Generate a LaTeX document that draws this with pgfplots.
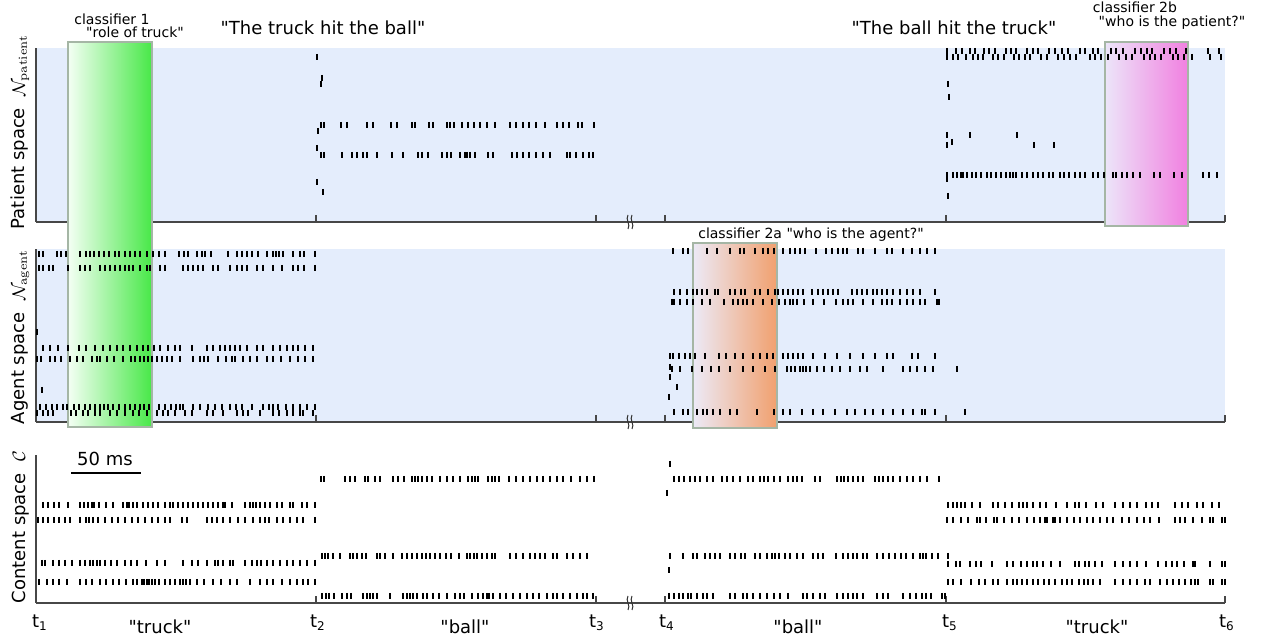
\documentclass[border=0pt]{standalone}
\usepackage[no-math]{fontspec}
\setmainfont{DejaVu Sans}[Ligatures=TeXOff]
\usepackage{pgfplots}
\pgfplotsset{compat=1.18}
\newcommand{\q}{\symbol{34}}
\definecolor{bgblue}{RGB}{228,237,252}
\definecolor{gA}{RGB}{244,255,244}
\definecolor{gB}{RGB}{72,232,72}
\definecolor{oA}{RGB}{236,234,247}
\definecolor{oB}{RGB}{241,160,110}
\definecolor{mA}{RGB}{236,229,249}
\definecolor{mB}{RGB}{241,128,224}
\definecolor{boxc}{RGB}{165,182,165}
\pgfplotsset{
  panel/.style={
    scale only axis, x=0.5pt, y=0.5pt,
    xmin=36, xmax=1225, enlargelimits=false, clip=false,
    axis x line*=bottom, axis y line*=left,
    axis line style={black!72, line width=0.7pt, -},
    xtick={316,596,665,946,1225}, xticklabels={,,,,}, ytick=\empty,
    tick align=inside, major tick length=3.5pt,
    every tick/.style={black!72, line width=0.6pt},
    anchor=south west,
  },
  spk/.style={only marks, mark=|, mark size=1.6pt, black, mark options={line width=0.75pt}},
}
\newcommand{\brk}[1]{%
  \draw[black!80, line width=0.5pt] (axis cs:628,#1-7) .. controls (axis cs:631,#1-3) and (axis cs:625,#1+3) .. (axis cs:628,#1+7);
  \draw[black!80, line width=0.5pt] (axis cs:632,#1-7) .. controls (axis cs:635,#1-3) and (axis cs:629,#1+3) .. (axis cs:632,#1+7);}
\begin{document}
\begin{tikzpicture}
\useasboundingbox (0,0) rectangle (633pt,318.5pt);
% ---------------- Patient space ----------------
\begin{axis}[panel, at={(18pt,207.5pt)}, ymin=415, ymax=589,
  axis background/.style={fill=bgblue}]
\shade[left color=mA, right color=mB] (axis cs:1105,411) rectangle (axis cs:1188,595);
\draw[boxc, line width=0.8pt] (axis cs:1105,411) rectangle (axis cs:1188,595);
\brk{415}
% segment t2-t3
\addplot[spk] coordinates {(317,580) (322,559) (321,553) (318,506) (317,489) (317,455) (323,445)};
\addplot[spk] coordinates {(321,512) (324,512) (341,512) (347,512) (367,512) (373,512) (391,512) (397,512) (412,512) (415,512) (429,512) (433,512) (447,512) (450,512) (454,512) (462,512) (468,512) (474,512) (480,512) (487,512) (495,512) (510,512) (516,512) (523,512) (529,512) (536,512) (545,512) (557,512) (563,512) (569,512) (578,512) (582,512) (594,512)};
\addplot[spk] coordinates {(321,482) (324,482) (342,482) (352,482) (357,482) (363,482) (367,482) (377,482) (392,482) (403,482) (418,482) (422,482) (428,482) (442,482) (447,482) (451,482) (460,482) (465,482) (467,482) (470,482) (475,482) (488,482) (493,482) (512,482) (517,482) (523,482) (529,482) (536,482) (543,482) (550,482) (567,482) (570,482) (576,482) (583,482) (589,482) (593,482)};
% segment t5-t6
\addplot[spk] coordinates {(947,586) (956,586) (962,586) (970,586) (975,586) (984,586) (989,586) (995,586) (1006,586) (1011,586) (1016,586) (1027,586) (1033,586) (1038,586) (1049,586) (1055,586) (1062,586) (1068,586) (1080,586) (1085,586) (1093,586) (1098,586) (1111,586) (1116,586) (1123,586) (1135,586) (1141,586) (1147,586) (1152,586) (1164,586) (1170,586) (1176,586) (1186,586) (1208,586) (1219,586)};
\addplot[spk] coordinates {(947,580) (953,580) (958,580) (966,580) (973,580) (978,580) (983,580) (993,580) (998,580) (1004,580) (1014,580) (1019,580) (1025,580) (1030,580) (1041,580) (1047,580) (1058,580) (1064,580) (1070,580) (1076,580) (1090,580) (1095,580) (1101,580) (1108,580) (1119,580) (1126,580) (1132,580) (1144,580) (1150,580) (1155,580) (1161,580) (1173,580) (1178,580) (1184,580) (1192,580) (1210,580) (1221,580)};
\addplot[spk] coordinates {(948,553) (949,540) (947,502) (947,492) (952,495) (970,502) (1017,502) (1034,492) (1054,492) (948,441) (947,458)};
\addplot[spk] coordinates {(947,462) (953,462) (957,462) (961,462) (963,462) (967,462) (972,462) (976,462) (981,462) (987,462) (991,462) (996,462) (1001,462) (1006,462) (1010,462) (1013,462) (1016,462) (1022,462) (1027,462) (1033,462) (1038,462) (1043,462) (1049,462) (1053,462) (1060,462) (1064,462) (1069,462) (1075,462) (1080,462) (1085,462) (1093,462) (1098,462) (1104,462) (1113,462) (1116,462) (1122,462) (1127,462) (1133,462) (1140,462) (1154,462) (1160,462) (1174,462) (1182,462) (1203,462) (1209,462) (1217,462)};
% texts
\node[rotate=90, anchor=base, font=\fontsize{9}{10}\selectfont] at (axis cs:25,505) {Patient space\ \ $\mathcal{N}_{\mathrm{patient}}$};
\node[anchor=base, font=\fontsize{7}{8}\selectfont] at (axis cs:112,612) {classifier 1};
\node[anchor=base, font=\fontsize{7}{8}\selectfont] at (axis cs:135,599) {\q role of truck\q};
\node[anchor=base, font=\fontsize{9}{10}\selectfont] at (axis cs:323,602) {\q The truck hit the ball\q};
\node[anchor=base, font=\fontsize{9}{10}\selectfont] at (axis cs:954,602) {\q The ball hit the truck\q};
\node[anchor=base, font=\fontsize{7}{8}\selectfont] at (axis cs:1135,624) {classifier 2b};
\node[anchor=base, font=\fontsize{7}{8}\selectfont] at (axis cs:1172,610) {\q who is the patient?\q};
\end{axis}
% ---------------- Agent space ----------------
\begin{axis}[panel, at={(18pt,107.5pt)}, ymin=215, ymax=388,
  axis background/.style={fill=bgblue}]
\shade[left color=gA, right color=gB] (axis cs:68,210) rectangle (axis cs:152,595);
\draw[boxc, line width=0.8pt] (axis cs:68,210) rectangle (axis cs:152,595);
\shade[left color=oA, right color=oB] (axis cs:693,209) rectangle (axis cs:777,394);
\draw[boxc, line width=0.8pt] (axis cs:693,209) rectangle (axis cs:777,394);
\brk{215}
% segment t1-t2
\addplot[spk] coordinates {(37,305) (42,247)};
\addplot[spk] coordinates {(39,383) (43,383) (57,383) (61,383) (66,383) (80,383) (86,383) (90,383) (94,383) (99,383) (104,383) (109,383) (115,383) (119,383) (125,383) (130,383) (135,383) (140,383) (147,383) (153,383) (159,383) (165,383) (179,383) (184,383) (188,383) (197,383) (202,383) (205,383) (211,383) (228,383) (237,383) (242,383) (247,383) (252,383) (258,383) (267,383) (273,383) (276,383) (279,383) (283,383) (293,383) (300,383) (304,383) (315,383)};
\addplot[spk] coordinates {(39,369) (43,369) (49,369) (53,369) (68,369) (80,369) (85,369) (90,369) (100,369) (105,369) (110,369) (115,369) (120,369) (125,369) (129,369) (133,369) (140,369) (147,369) (150,369) (160,369) (165,369) (183,369) (188,369) (193,369) (198,369) (203,369) (213,369) (218,369) (230,369) (237,369) (242,369) (247,369) (257,369) (263,369) (273,369) (282,369) (293,369) (298,369) (304,369) (315,369)};
\addplot[spk] coordinates {(43,289) (50,289) (58,289) (68,289) (79,289) (86,289) (95,289) (103,289) (110,289) (117,289) (123,289) (130,289) (137,289) (143,289) (148,289) (154,289) (160,289) (168,289) (175,289) (180,289) (192,289) (207,289) (213,289) (220,289) (225,289) (230,289) (235,289) (240,289) (247,289) (257,289) (263,289) (273,289) (280,289) (287,289) (293,289) (298,289) (305,289) (313,289)};
\addplot[spk] coordinates {(37,278) (41,278) (50,278) (55,278) (61,278) (70,278) (77,278) (83,278) (92,278) (97,278) (100,278) (107,278) (114,278) (123,278) (131,278) (135,278) (140,278) (144,278) (148,278) (152,278) (157,278) (162,278) (167,278) (172,278) (180,278) (193,278) (200,278) (204,278) (208,278) (218,278) (226,278) (232,278) (235,278) (243,278) (250,278) (257,278) (267,278) (273,278) (281,278) (290,278) (298,278) (305,278) (313,278)};
\addplot[spk] coordinates {(40,230) (46,230) (52,230) (57,230) (63,230) (67,230) (74,230) (79,230) (85,230) (90,230) (95,230) (100,230) (104,230) (108,230) (113,230) (119,230) (125,230) (130,230) (135,230) (140,230) (144,230) (149,230) (159,230) (165,230) (171,230) (176,230) (180,230) (183,230) (193,230) (200,230) (208,230) (215,230) (222,230) (230,230) (236,230) (242,230) (252,230) (263,230) (269,230) (273,230) (278,230) (286,230) (293,230) (300,230) (307,230) (315,230)};
\addplot[spk] coordinates {(37,224) (43,224) (48,224) (53,224) (71,224) (76,224) (83,224) (88,224) (95,224) (100,224) (110,224) (117,224) (125,224) (133,224) (139,224) (147,224) (157,224) (163,224) (168,224) (175,224) (185,224) (192,224) (207,224) (213,224) (223,224) (237,224) (243,224) (248,224) (260,224) (273,224) (279,224) (287,224) (293,224) (300,224) (303,224) (313,224)};
% segment t4-t5
\addplot[spk] coordinates {(670,270) (670,260) (677,250) (669,240)};
\addplot[spk] coordinates {(673,386) (683,386) (688,386) (707,386) (717,386) (730,386) (740,386) (744,386) (755,386) (763,386) (768,386) (774,386) (783,386) (790,386) (795,386) (800,386) (805,386) (816,386) (826,386) (832,386) (838,386) (843,386) (847,386) (858,386) (863,386) (875,386) (887,386) (892,386) (903,386) (912,386) (920,386) (927,386) (935,386)};
\addplot[spk] coordinates {(674,345) (680,345) (687,345) (693,345) (697,345) (702,345) (707,345) (715,345) (718,345) (730,345) (735,345) (741,345) (745,345) (755,345) (760,345) (768,345) (775,345) (778,345) (783,345) (788,345) (793,345) (798,345) (803,345) (812,345) (818,345) (823,345) (828,345) (833,345) (838,345) (852,345) (857,345) (862,345) (867,345) (873,345) (877,345) (882,345) (887,345) (893,345) (900,345) (907,345) (913,345) (920,345) (935,345)};
\addplot[spk] coordinates {(672,335) (674,335) (680,335) (687,335) (693,335) (702,335) (710,335) (724,335) (733,335) (738,335) (743,335) (747,335) (753,335) (763,335) (772,335) (779,335) (785,335) (790,335) (793,335) (797,335) (804,335) (813,335) (824,335) (836,335) (843,335) (848,335) (853,335) (863,335) (873,335) (882,335) (887,335) (892,335) (900,335) (907,335) (913,335) (920,335) (925,335) (937,335) (939,335)};
\addplot[spk] coordinates {(670,281) (673,281) (679,281) (685,281) (690,281) (695,281) (705,281) (719,281) (726,281) (735,281) (743,281) (753,281) (760,281) (767,281) (773,281) (783,281) (788,281) (793,281) (798,281) (803,281) (813,281) (825,281) (837,281) (850,281) (863,281) (875,281) (887,281) (893,281) (912,281) (918,281) (935,281)};
\addplot[spk] coordinates {(672,268) (680,268) (692,268) (702,268) (711,268) (719,268) (730,268) (743,268) (753,268) (765,268) (775,268) (787,268) (791,268) (795,268) (800,268) (803,268) (806,268) (810,268) (817,268) (824,268) (832,268) (840,268) (850,268) (860,268) (867,268) (883,268) (903,268) (910,268) (917,268) (925,268) (933,268) (957,268)};
\addplot[spk] coordinates {(674,225) (683,225) (688,225) (697,225) (703,225) (707,225) (713,225) (720,225) (730,225) (737,225) (757,225) (774,225) (783,225) (790,225) (802,225) (813,225) (823,225) (835,225) (847,225) (855,225) (865,225) (873,225) (883,225) (893,225) (903,225) (913,225) (922,225) (925,225) (935,225) (965,225)};
\node[rotate=90, anchor=base, font=\fontsize{9}{10}\selectfont] at (axis cs:25,300) {Agent space\ \ $\mathcal{N}_{\mathrm{agent}}$};
\node[anchor=base, font=\fontsize{7}{8}\selectfont] at (axis cs:811,398.5) {classifier 2a \q who is the agent?\q};
\end{axis}
% ---------------- Content space ----------------
\begin{axis}[panel, at={(18pt,17pt)}, ymin=34, ymax=182]
\brk{34}
% segment t1-t2
\addplot[spk] coordinates {(43,132) (48,132) (54,132) (59,132) (68,132) (80,132) (84,132) (88,132) (92,132) (94,132) (99,132) (106,132) (113,132) (123,132) (127,132) (129,132) (133,132) (137,132) (143,132) (148,132) (153,132) (158,132) (165,132) (170,132) (173,132) (178,132) (183,132) (188,132) (193,132) (198,132) (203,132) (208,132) (213,132) (218,132) (223,132) (225,132) (232,132) (245,132) (250,132) (253,132) (256,132) (260,132) (265,132) (270,132) (277,132) (282,132) (290,132) (293,132) (302,132) (307,132) (315,132)};
\addplot[spk] coordinates {(38,117) (43,117) (48,117) (54,117) (59,117) (65,117) (70,117) (80,117) (86,117) (89,117) (93,117) (98,117) (105,117) (112,117) (118,117) (125,117) (132,117) (138,117) (145,117) (152,117) (158,117) (165,117) (170,117) (182,117) (187,117) (207,117) (212,117) (217,117) (223,117) (230,117) (238,117) (245,117) (253,117) (260,117) (265,117) (269,117) (277,117) (283,117) (290,117) (297,117) (303,117) (315,117)};
\addplot[spk] coordinates {(42,74) (45,74) (53,74) (59,74) (65,74) (72,74) (80,74) (85,74) (90,74) (93,74) (97,74) (100,74) (105,74) (111,74) (117,74) (125,74) (131,74) (137,74) (146,74) (157,74) (165,74) (183,74) (192,74) (198,74) (207,74) (215,74) (218,74) (223,74) (230,74) (233,74) (245,74) (252,74) (257,74) (261,74) (267,74) (273,74) (280,74) (287,74) (293,74) (300,74) (307,74) (315,74)};
\addplot[spk] coordinates {(39,55) (47,55) (53,55) (59,55) (67,55) (80,55) (86,55) (92,55) (100,55) (106,55) (113,55) (119,55) (126,55) (133,55) (137,55) (142,55) (144,55) (147,55) (149,55) (152,55) (155,55) (159,55) (165,55) (170,55) (175,55) (180,55) (183,55) (186,55) (190,55) (197,55) (204,55) (213,55) (221,55) (230,55) (237,55) (250,55) (260,55) (267,55) (273,55) (282,55) (290,55) (297,55) (303,55) (308,55) (315,55)};
% segment t2-t3
\addplot[spk] coordinates {(321,158) (324,158) (345,158) (350,158) (355,158) (365,158) (368,158) (375,158) (380,158) (393,158) (398,158) (404,158) (412,158) (415,158) (418,158) (422,158) (427,158) (432,158) (440,158) (447,158) (453,158) (460,158) (468,158) (472,158) (475,158) (478,158) (488,158) (492,158) (495,158) (499,158) (509,158) (516,158) (523,158) (530,158) (537,158) (543,158) (550,158) (557,158) (563,158) (571,158) (580,158) (587,158) (594,158)};
\addplot[spk] coordinates {(322,81) (325,81) (328,81) (333,81) (340,81) (350,81) (353,81) (357,81) (362,81) (366,81) (377,81) (380,81) (385,81) (393,81) (402,81) (407,81) (412,81) (417,81) (422,81) (426,81) (430,81) (435,81) (440,81) (446,81) (451,81) (459,81) (467,81) (470,81) (474,81) (477,81) (482,81) (487,81) (492,81) (495,81) (510,81) (516,81) (523,81) (530,81) (535,81) (540,81) (545,81) (553,81) (557,81) (567,81) (573,81) (580,81) (587,81)};
\addplot[spk] coordinates {(322,41) (326,41) (329,41) (334,41) (342,41) (347,41) (351,41) (363,41) (367,41) (370,41) (373,41) (377,41) (390,41) (403,41) (407,41) (410,41) (413,41) (417,41) (423,41) (427,41) (433,41) (439,41) (447,41) (455,41) (460,41) (464,41) (472,41) (478,41) (483,41) (487,41) (489,41) (493,41) (500,41) (506,41) (513,41) (520,41) (527,41) (533,41) (539,41) (547,41) (553,41) (557,41) (563,41) (570,41) (577,41) (583,41) (587,41) (593,41)};
% segment t4-t5
\addplot[spk] coordinates {(670,173) (667,144) (669,67)};
\addplot[spk] coordinates {(674,158) (679,158) (684,158) (690,158) (695,158) (700,158) (707,158) (713,158) (722,158) (727,158) (733,158) (740,158) (748,158) (753,158) (760,158) (764,158) (768,158) (774,158) (780,158) (788,158) (793,158) (797,158) (802,158) (815,158) (820,158) (837,158) (841,158) (844,158) (848,158) (853,158) (858,158) (863,158) (875,158) (879,158) (883,158) (888,158) (893,158) (900,158) (907,158) (913,158) (920,158) (927,158) (939,158)};
\addplot[spk] coordinates {(670,81) (683,81) (693,81) (697,81) (705,81) (710,81) (715,81) (720,81) (730,81) (735,81) (741,81) (745,81) (755,81) (760,81) (767,81) (772,81) (775,81) (779,81) (785,81) (790,81) (797,81) (803,81) (813,81) (818,81) (823,81) (836,81) (843,81) (848,81) (853,81) (857,81) (863,81) (867,81) (877,81) (883,81) (889,81) (895,81) (901,81) (906,81) (913,81) (920,81) (923,81) (926,81) (932,81) (938,81) (948,81)};
\addplot[spk] coordinates {(669,41) (674,41) (679,41) (683,41) (688,41) (691,41) (697,41) (703,41) (707,41) (713,41) (730,41) (735,41) (743,41) (747,41) (753,41) (760,41) (767,41) (774,41) (780,41) (788,41) (803,41) (807,41) (813,41) (820,41) (825,41) (837,41) (843,41) (848,41) (853,41) (857,41) (863,41) (877,41) (883,41) (888,41) (903,41) (910,41) (916,41) (922,41) (926,41) (931,41) (942,41) (945,41)};
% segment t5-t6
\addplot[spk] coordinates {(948,132) (953,132) (957,132) (961,132) (965,132) (972,132) (980,132) (993,132) (998,132) (1005,132) (1012,132) (1019,132) (1023,132) (1027,132) (1033,132) (1040,132) (1046,132) (1056,132) (1067,132) (1075,132) (1079,132) (1086,132) (1096,132) (1103,132) (1115,132) (1123,132) (1130,132) (1137,132) (1146,132) (1152,132) (1158,132) (1175,132) (1182,132) (1188,132) (1197,132) (1203,132) (1212,132) (1219,132)};
\addplot[spk] coordinates {(947,117) (953,117) (961,117) (968,117) (977,117) (980,117) (986,117) (994,117) (997,117) (1004,117) (1012,117) (1019,117) (1027,117) (1034,117) (1040,117) (1045,117) (1047,117) (1053,117) (1055,117) (1060,117) (1067,117) (1074,117) (1080,117) (1087,117) (1093,117) (1100,117) (1107,117) (1113,117) (1122,117) (1129,117) (1137,117) (1144,117) (1150,117) (1159,117) (1175,117) (1180,117) (1185,117) (1193,117) (1202,117) (1210,117) (1213,117) (1222,117) (1225,117)};
\addplot[spk] coordinates {(948,73) (956,73) (960,73) (970,73) (976,73) (981,73) (992,73) (1007,73) (1013,73) (1021,73) (1027,73) (1033,73) (1037,73) (1043,73) (1051,73) (1060,73) (1075,73) (1079,73) (1085,73) (1089,73) (1095,73) (1102,73) (1115,73) (1123,73) (1130,73) (1137,73) (1146,73) (1158,73) (1166,73) (1172,73) (1177,73) (1184,73) (1193,73) (1195,73) (1210,73) (1222,73) (1225,73)};
\addplot[spk] coordinates {(948,55) (953,55) (961,55) (971,55) (979,55) (985,55) (993,55) (998,55) (1007,55) (1013,55) (1017,55) (1022,55) (1027,55) (1033,55) (1038,55) (1044,55) (1049,55) (1055,55) (1062,55) (1067,55) (1072,55) (1079,55) (1084,55) (1088,55) (1093,55) (1100,55) (1115,55) (1123,55) (1130,55) (1137,55) (1145,55) (1150,55) (1160,55) (1167,55) (1173,55) (1179,55) (1185,55) (1191,55) (1195,55) (1198,55) (1210,55) (1213,55) (1222,55) (1225,55)};
% scale bar
\draw[black, line width=1.4pt] (axis cs:71,164) -- (axis cs:141,164);
\node[anchor=base, font=\fontsize{9}{10}\selectfont] at (axis cs:105,171) {50 ms};
\node[rotate=90, anchor=base, font=\fontsize{9}{10}\selectfont] at (axis cs:25,110) {Content space\ \ $\mathcal{C}$};
% time labels
\node[anchor=base, font=\fontsize{9}{10}\selectfont] at (axis cs:40,9) {t\textsubscript{1}};
\node[anchor=base, font=\fontsize{9}{10}\selectfont] at (axis cs:318,9) {t\textsubscript{2}};
\node[anchor=base, font=\fontsize{9}{10}\selectfont] at (axis cs:597,9) {t\textsubscript{3}};
\node[anchor=base, font=\fontsize{9}{10}\selectfont] at (axis cs:667,9) {t\textsubscript{4}};
\node[anchor=base, font=\fontsize{9}{10}\selectfont] at (axis cs:950,9) {t\textsubscript{5}};
\node[anchor=base, font=\fontsize{9}{10}\selectfont] at (axis cs:1227,9) {t\textsubscript{6}};
\node[anchor=base, font=\fontsize{9}{10}\selectfont] at (axis cs:160,3) {\q truck\q};
\node[anchor=base, font=\fontsize{9}{10}\selectfont] at (axis cs:465,3) {\q ball\q};
\node[anchor=base, font=\fontsize{9}{10}\selectfont] at (axis cs:798,3) {\q ball\q};
\node[anchor=base, font=\fontsize{9}{10}\selectfont] at (axis cs:1097,3) {\q truck\q};
\end{axis}
\end{tikzpicture}
\end{document}
